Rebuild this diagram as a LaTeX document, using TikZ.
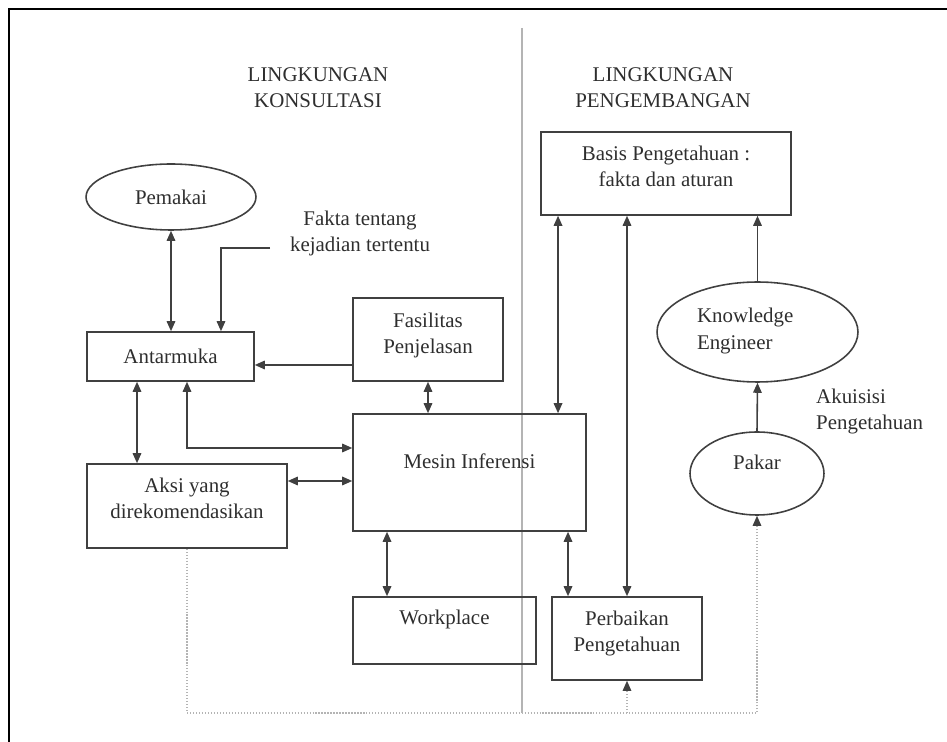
\documentclass[tikz,border=0pt]{standalone}
\usepackage{fontspec}
\setmainfont{Liberation Serif}
\usetikzlibrary{arrows.meta,shapes.geometric}
\definecolor{ink}{HTML}{2E2E2E}
\definecolor{lineclr}{HTML}{404040}
\definecolor{dotclr}{HTML}{B4B4B4}
\begin{document}
\begin{tikzpicture}[x=0.02cm,y=-0.02cm,
	>={Triangle[length=0.2cm,width=0.17cm]},
	every node/.style={font=\fontsize{11.9pt}{15.3pt}\selectfont,text=ink},
	kotak/.style={draw=lineclr,line width=0.9pt,rectangle,inner sep=0pt,align=center,text height=0.3cm},
	kotakdua/.style={kotak,text height=0.84cm},
	oval/.style={draw=lineclr,line width=0.9pt,ellipse,inner sep=0pt,align=center},
	panah/.style={draw=lineclr,line width=0.9pt},
	titik/.style={draw=dotclr,line width=0.7pt,densely dotted}]
	\useasboundingbox (0,0) rectangle (947,742);
	% bingkai dan pemisah
	\draw[line width=1.1pt] (947,9) -- (9,9) -- (9,742);
	\draw[dotclr,line width=0.8pt] (522,28) -- (522,713);
	
	\node[anchor=base,align=center] (judulkiri) at (318,108) {LINGKUNGAN\\KONSULTASI};
	\node[anchor=base,align=center] (judulkanan) at (663,108) {LINGKUNGAN\\PENGEMBANGAN};
	
	\node[oval,minimum width=3.4cm,minimum height=1.32cm] (pemakai) at (171,197) {Pemakai};
	\node[kotak,minimum width=3.34cm,minimum height=0.98cm] (antarmuka) at (170.5,356.5) {Antarmuka};
	\node[anchor=base,align=center] (fakta) at (360,252) {Fakta tentang\\kejadian tertentu};
	\node[kotakdua,minimum width=3cm,minimum height=1.66cm,text depth=0.26cm] (fasilitas) at (428,339.5) {Fasilitas\\Penjelasan};
	\node[kotak,minimum width=4.66cm,minimum height=2.34cm,text depth=0.44cm] (mesin) at (469.5,472.5) {Mesin Inferensi};
	\node[kotakdua,minimum width=4cm,minimum height=1.68cm,text depth=0.32cm] (aksi) at (187,506) {Aksi yang\\direkomendasikan};
	\node[kotak,minimum width=3.66cm,minimum height=1.34cm,text depth=0.52cm] (workplace) at (444.5,630.5) {Workplace};
	\node[kotakdua,minimum width=3cm,minimum height=1.66cm,text depth=0.3cm] (perbaikan) at (627,638.5) {Perbaikan\\Pengetahuan};
	\node[kotakdua,minimum width=5cm,minimum height=1.66cm,text depth=0.3cm] (basis) at (666,173.5) {Basis Pengetahuan :\\fakta dan aturan};
	\node[oval,minimum width=4.02cm,minimum height=2cm,text width=2.42cm,align=left,text height=0.3cm,text depth=0.66cm] (ke) at (757.5,332) {Knowledge\\Engineer};
	\node[oval,minimum width=2.68cm,minimum height=1.66cm,text height=0.3cm,text depth=0.44cm] (pakar) at (757,473.5) {Pakar};
	\node[anchor=base west,align=left] (akuisisi) at (810,430) {Akuisisi\\Pengetahuan};
	
	% titik bantu
	\coordinate (fk) at (270,248);
	\coordinate (am1) at ([yshift=-0.17cm]antarmuka.east);
	\coordinate (a1) at ([xshift=-0.67cm]antarmuka.south);
	\coordinate (a2) at ([xshift=0.33cm]antarmuka.south);
	\coordinate (m1) at ([yshift=0.49cm]mesin.west);
	\coordinate (m2) at ([yshift=-0.17cm]mesin.west);
	\coordinate (w1) at ([xshift=-1.15cm]workplace.north);
	\coordinate (p1) at ([xshift=-1.18cm]perbaikan.north);
	\coordinate (b1) at ([xshift=-2.16cm]basis.south);
	\coordinate (dasar) at (0,713);
	
	\draw[panah,<->] (pemakai.south) -- (pemakai.south |- antarmuka.north);
	\draw[panah,->] (fk) -| ([xshift=1.01cm]antarmuka.north);
	\draw[panah,->] (fasilitas.west |- am1) -- (am1);
	\draw[panah,<->] (a1) -- (a1 |- aksi.north);
	\draw[panah,<->] (a2) |- (m1);
	\draw[panah,<->] (aksi.east |- m2) -- (m2);
	\draw[panah,<->] (fasilitas.south) -- (fasilitas.south |- mesin.north);
	\draw[panah,<->] (w1 |- mesin.south) -- (w1);
	\draw[panah,<->] (p1 |- mesin.south) -- (p1);
	\draw[panah,<->] (b1) -- (b1 |- mesin.north);
	\draw[panah,<->] (perbaikan.north |- basis.south) -- (perbaikan.north);
	\draw[panah,->] (ke.north) -- (ke.north |- basis.south);
	\draw[panah,->] (pakar.north) -- (ke.south);
	
	\draw[titik,-{Triangle[length=0.2cm,width=0.17cm,color=lineclr]}] (aksi.south) -- (aksi.south |- dasar) -| (pakar.south);
	\draw[titik,-{Triangle[length=0.2cm,width=0.17cm,color=lineclr]}] (perbaikan.south |- dasar) -- (perbaikan.south);
\end{tikzpicture}
\end{document}
